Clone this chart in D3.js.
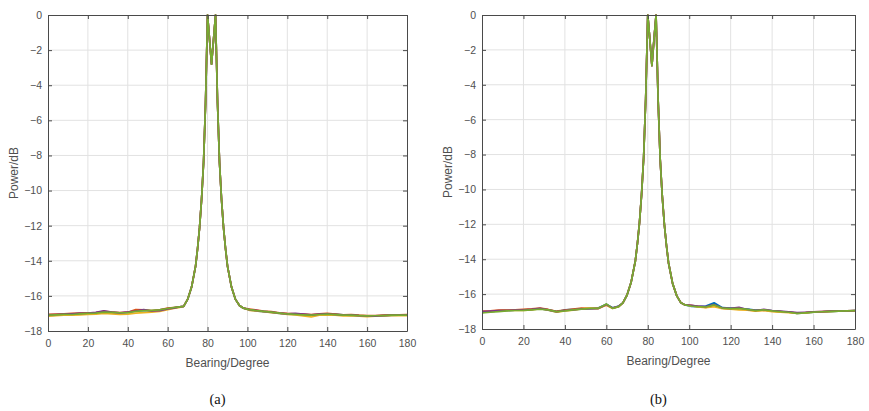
<!DOCTYPE html>
<html>
<head>
<meta charset="utf-8">
<script src="https://cdn.jsdelivr.net/npm/d3@7"></script>
<style>
  body { margin: 0; background: #fff; }
  text { font-family: "Liberation Sans", Arial, sans-serif; }
</style>
</head>
<body>
<svg id="chart"></svg>
<script>
const width = 869;
const height = 411;

// Bearings sampled in the picture (degrees)
const bearingsLeft = [0, 4, 8, 12, 16, 20, 24, 28, 32, 36, 40, 44, 48, 52, 56, 60, 63, 66];
const bearingsLobe = [68, 70, 72, 74, 75, 76, 77, 78, 79, 80, 81, 82, 83, 84, 85, 86, 87, 88, 89, 90, 92, 94, 96, 98];
const bearingsRight = [101, 104, 108, 112, 116, 120, 124, 128, 132, 136, 140, 144, 148, 152, 156, 160, 164, 168, 172, 176, 180];

const xTicks = [0, 20, 40, 60, 80, 100, 120, 140, 160, 180];
const yTicks = [0, -2, -4, -6, -8, -10, -12, -14, -16, -18];

const seriesNames = ["blue", "orange", "yellow", "purple", "green"];
const seriesColors = ["#0072BD", "#D95319", "#EDB120", "#7E2F8E", "#77AC30"];

// Panel (a) main lobe (same for every series)
const lobeA = [-16.6, -16.2, -15.5, -14.3, -13.3, -12.1, -10.5, -8.4, -5.0, 0, -1.4, -2.8, -1.4, 0, -5.0, -8.4, -10.5, -12.1, -13.3, -14.3, -15.5, -16.2, -16.55, -16.7];

// Panel (a) noise floor, per series
const floorLeftA = [
  [-17.12, -17.1, -17.06, -17.04, -17.0, -16.98, -17.0, -16.92, -16.95, -16.98, -16.94, -16.84, -16.82, -16.86, -16.8, -16.72, -16.68, -16.62],
  [-17.05, -17.04, -17.02, -17.0, -16.98, -16.96, -16.95, -16.88, -16.92, -16.95, -16.93, -16.78, -16.8, -16.84, -16.8, -16.7, -16.66, -16.62],
  [-17.15, -17.12, -17.1, -17.1, -17.08, -17.06, -17.04, -17.0, -17.02, -17.05, -17.04, -16.98, -16.95, -16.92, -16.88, -16.78, -16.72, -16.65],
  [-17.08, -17.06, -17.04, -17.02, -17.0, -16.98, -16.94, -16.85, -16.92, -16.96, -16.92, -16.86, -16.78, -16.86, -16.84, -16.74, -16.7, -16.63],
  [-17.1, -17.08, -17.05, -17.06, -17.02, -17.0, -16.98, -16.92, -16.94, -16.96, -16.95, -16.88, -16.84, -16.82, -16.8, -16.72, -16.67, -16.63]
];
const floorRightA = [
  [-16.8, -16.85, -16.9, -16.94, -17.0, -17.04, -17.06, -17.06, -17.08, -17.08, -17.05, -17.04, -17.08, -17.12, -17.13, -17.15, -17.14, -17.12, -17.11, -17.1, -17.1],
  [-16.75, -16.8, -16.86, -16.9, -16.96, -17.0, -17.02, -17.04, -17.06, -17.02, -17.0, -17.04, -17.08, -17.06, -17.1, -17.12, -17.12, -17.1, -17.08, -17.08, -17.07],
  [-16.82, -16.86, -16.9, -16.96, -17.0, -17.06, -17.08, -17.14, -17.2, -17.1, -17.08, -17.1, -17.14, -17.12, -17.16, -17.18, -17.16, -17.14, -17.12, -17.13, -17.12],
  [-16.78, -16.82, -16.88, -16.92, -16.98, -17.02, -17.0, -17.04, -17.08, -17.04, -17.02, -17.06, -17.1, -17.08, -17.12, -17.14, -17.15, -17.12, -17.1, -17.09, -17.1],
  [-16.78, -16.83, -16.88, -16.93, -16.98, -17.03, -17.05, -17.08, -17.1, -17.06, -17.04, -17.07, -17.1, -17.1, -17.12, -17.14, -17.13, -17.12, -17.1, -17.1, -17.1]
];

// Panel (b) main lobe
const lobeB = [-16.5, -16.05, -15.3, -14.1, -13.1, -11.9, -10.3, -8.2, -4.8, 0, -1.4, -2.9, -1.4, 0, -4.9, -8.3, -10.4, -12.0, -13.2, -14.2, -15.4, -16.1, -16.5, -16.62];

// Panel (b) noise floor, per series
const floorLeftB = [
  [-17.05, -17.0, -16.96, -16.94, -16.92, -16.9, -16.88, -16.84, -16.92, -17.02, -16.9, -16.88, -16.86, -16.84, -16.8, -16.58, -16.78, -16.68],
  [-16.98, -16.96, -16.92, -16.9, -16.9, -16.88, -16.85, -16.8, -16.88, -16.98, -16.92, -16.86, -16.8, -16.82, -16.84, -16.62, -16.8, -16.7],
  [-17.02, -17.0, -16.96, -16.92, -16.94, -16.94, -16.9, -16.84, -16.92, -17.04, -16.96, -16.92, -16.85, -16.8, -16.8, -16.64, -16.82, -16.72],
  [-17.0, -16.98, -16.95, -16.93, -16.92, -16.92, -16.88, -16.82, -16.9, -17.0, -16.94, -16.9, -16.84, -16.84, -16.82, -16.6, -16.8, -16.7],
  [-17.08, -17.04, -17.0, -16.96, -16.94, -16.93, -16.9, -16.86, -16.9, -17.0, -16.96, -16.9, -16.86, -16.82, -16.82, -16.56, -16.82, -16.72]
];
const floorRightB = [
  [-16.7, -16.72, -16.68, -16.5, -16.78, -16.8, -16.82, -16.86, -16.92, -16.9, -16.96, -17.0, -17.02, -17.1, -17.08, -17.04, -17.02, -17.0, -16.98, -16.97, -16.95],
  [-16.65, -16.7, -16.76, -16.68, -16.8, -16.84, -16.8, -16.9, -16.95, -16.92, -16.98, -17.0, -17.04, -17.08, -17.06, -17.02, -17.0, -16.98, -16.97, -16.96, -16.95],
  [-16.68, -16.74, -16.78, -16.72, -16.84, -16.86, -16.9, -16.92, -16.98, -16.94, -17.0, -17.04, -17.06, -17.1, -17.08, -17.04, -17.02, -17.0, -16.98, -16.97, -16.96],
  [-16.64, -16.68, -16.72, -16.6, -16.8, -16.82, -16.76, -16.88, -16.94, -16.88, -16.94, -16.98, -17.02, -17.06, -17.04, -17.02, -17.0, -16.98, -16.97, -16.96, -16.95],
  [-16.68, -16.72, -16.74, -16.62, -16.8, -16.83, -16.82, -16.88, -16.95, -16.9, -16.96, -17.0, -17.04, -17.1, -17.07, -17.03, -17.01, -16.99, -16.97, -16.96, -16.95]
];

const svg = d3.select("#chart")
  .attr("width", width)
  .attr("height", height);

svg.append("rect").attr("width", width).attr("height", height).attr("fill", "#fff");

function buildSeries(floorLeft, lobe, floorRight) {
  const bearings = [...bearingsLeft, ...bearingsLobe, ...bearingsRight];
  return seriesNames.map((name, i) => {
    const values = [...floorLeft[i], ...lobe, ...floorRight[i]];
    return { name, color: seriesColors[i], points: bearings.map((b, j) => ({ b, v: values[j] })) };
  });
}

function drawPanel(opts) {
  const { left, right, top, bottom, series, caption, clipId } = opts;

  const x = d3.scaleLinear().domain([0, 180]).range([left, right]);
  const y = d3.scaleLinear().domain([-18, 0]).range([bottom, top]);

  const g = svg.append("g");

  // grid
  g.append("g")
    .selectAll("line")
    .data(xTicks.slice(1, -1))
    .join("line")
    .attr("x1", d => x(d)).attr("x2", d => x(d))
    .attr("y1", top).attr("y2", bottom)
    .attr("stroke", "#e2e2e2").attr("stroke-width", 1);

  g.append("g")
    .selectAll("line")
    .data(yTicks.slice(1, -1))
    .join("line")
    .attr("x1", left).attr("x2", right)
    .attr("y1", d => y(d)).attr("y2", d => y(d))
    .attr("stroke", "#e2e2e2").attr("stroke-width", 1);

  // clip
  svg.append("clipPath").attr("id", clipId)
    .append("rect")
    .attr("x", left).attr("y", top - 1)
    .attr("width", right - left).attr("height", bottom - top + 1);

  const line = d3.line()
    .x(d => x(d.b))
    .y(d => y(d.v));

  g.append("g")
    .attr("clip-path", `url(#${clipId})`)
    .selectAll("path")
    .data(series)
    .join("path")
    .attr("fill", "none")
    .attr("stroke", d => d.color)
    .attr("stroke-width", 1.7)
    .attr("stroke-linejoin", "round")
    .attr("d", d => line(d.points));

  // axes (inward ticks, box)
  const tickColor = "#4a4a4a";
  const bottomAxis = g.append("g")
    .attr("transform", `translate(0,${bottom})`)
    .call(d3.axisBottom(x).tickValues(xTicks).tickSize(-4).tickPadding(9).tickSizeOuter(0));
  const leftAxis = g.append("g")
    .attr("transform", `translate(${left},0)`)
    .call(d3.axisLeft(y).tickValues(yTicks).tickSize(-4).tickPadding(6).tickSizeOuter(0));
  const topAxis = g.append("g")
    .attr("transform", `translate(0,${top})`)
    .call(d3.axisTop(x).tickValues(xTicks).tickSize(-4).tickFormat("").tickSizeOuter(0));
  const rightAxis = g.append("g")
    .attr("transform", `translate(${right},0)`)
    .call(d3.axisRight(y).tickValues(yTicks).tickSize(-4).tickFormat("").tickSizeOuter(0));

  [bottomAxis, leftAxis, topAxis, rightAxis].forEach(a => {
    a.select(".domain").attr("stroke", tickColor).attr("stroke-width", 1);
    a.selectAll(".tick line").attr("stroke", tickColor);
    a.selectAll("text")
      .attr("fill", "#505050")
      .style("font-size", "10.5px")
      .style("font-family", "'Liberation Sans', Arial, sans-serif");
  });

  // axis labels
  g.append("text")
    .attr("x", (left + right) / 2)
    .attr("y", bottom + 36)
    .attr("text-anchor", "middle")
    .attr("fill", "#505050")
    .style("font-size", "12px")
    .text("Bearing/Degree");

  g.append("text")
    .attr("transform", `translate(${left - 30},${(top + bottom) / 2}) rotate(-90)`)
    .attr("text-anchor", "middle")
    .attr("fill", "#505050")
    .style("font-size", "12px")
    .text("Power/dB");

  g.append("text")
    .attr("x", (left + right) / 2 - 10)
    .attr("y", 404)
    .attr("text-anchor", "middle")
    .attr("fill", "#111")
    .style("font-family", "'Liberation Serif', 'DejaVu Serif', serif")
    .style("font-size", "14.5px")
    .text(caption);
}

drawPanel({
  left: 48, right: 407, top: 15, bottom: 331,
  series: buildSeries(floorLeftA, lobeA, floorRightA),
  caption: "(a)", clipId: "clipA"
});

drawPanel({
  left: 482, right: 855, top: 15, bottom: 329,
  series: buildSeries(floorLeftB, lobeB, floorRightB),
  caption: "(b)", clipId: "clipB"
});
</script>
</body>
</html>
